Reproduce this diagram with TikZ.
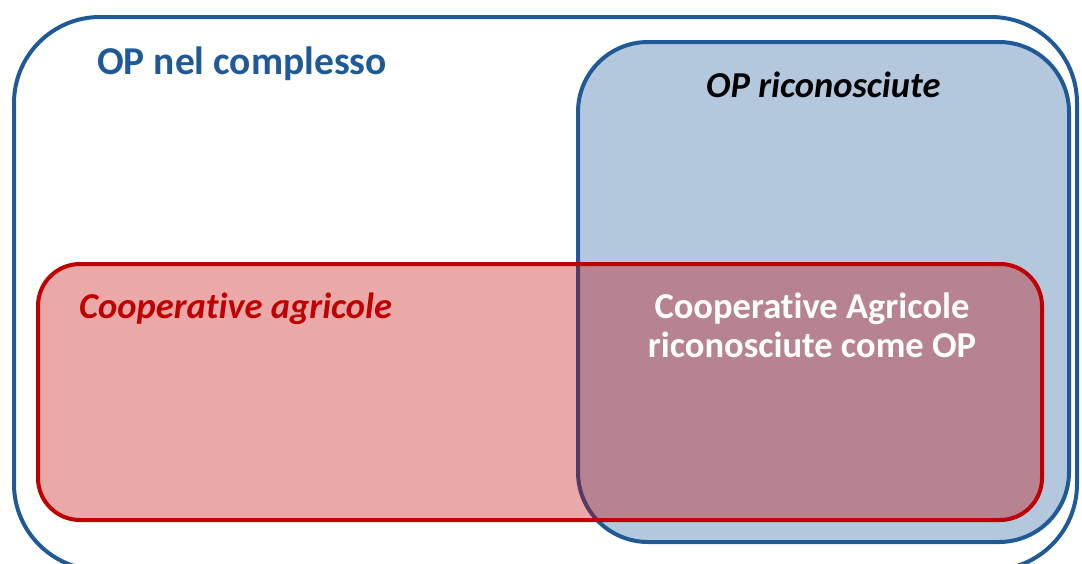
\documentclass[tikz,border=0pt]{standalone}
\usepackage{fontspec}
\setmainfont{Carlito}[Ligatures={NoCommon,NoContextual}]
\definecolor{opblue}{RGB}{31,89,152}
\definecolor{oplight}{RGB}{179,199,221}
\definecolor{cred}{RGB}{192,0,0}
\tikzset{
  lbl/.style={font=\fontsize{36.5}{40}\selectfont\bfseries, inner sep=0pt, anchor=base west},
}
\begin{document}
\begin{tikzpicture}[x=1pt,y=-1pt]
\useasboundingbox (0,0) rectangle (1082,563);
\begin{scope}
\clip (0,0) rectangle (1082,563);
% outer set
\draw[opblue, line width=4, rounded corners=86] (14,17) rectangle (1077,570);
% recognised OP
\draw[opblue, fill=oplight, line width=4, rounded corners=70] (578,42) rectangle (1069,542);
% cooperatives
\fill[cred, fill opacity=0.34, rounded corners=42] (38,264) rectangle (1042,520);
\draw[cred, line width=4, rounded corners=42] (38,264) rectangle (1042,520);
\end{scope}
\node[lbl, font=\fontsize{39.5}{40}\selectfont\bfseries, text=opblue] (tall) at (97,74) {OP nel complesso};
\node[lbl, text=black] (tric) at (706,97) {\itshape OP riconosciute};
\node[lbl, text=cred] (tcoop) at (79,318) {\itshape Cooperative agricole};
\node[font=\fontsize{36.5}{39}\selectfont\bfseries, text=white, align=center, inner sep=0pt, anchor=base] (tboth) at (812,357) {Cooperative Agricole\\riconosciute come OP};
\end{tikzpicture}
\end{document}
